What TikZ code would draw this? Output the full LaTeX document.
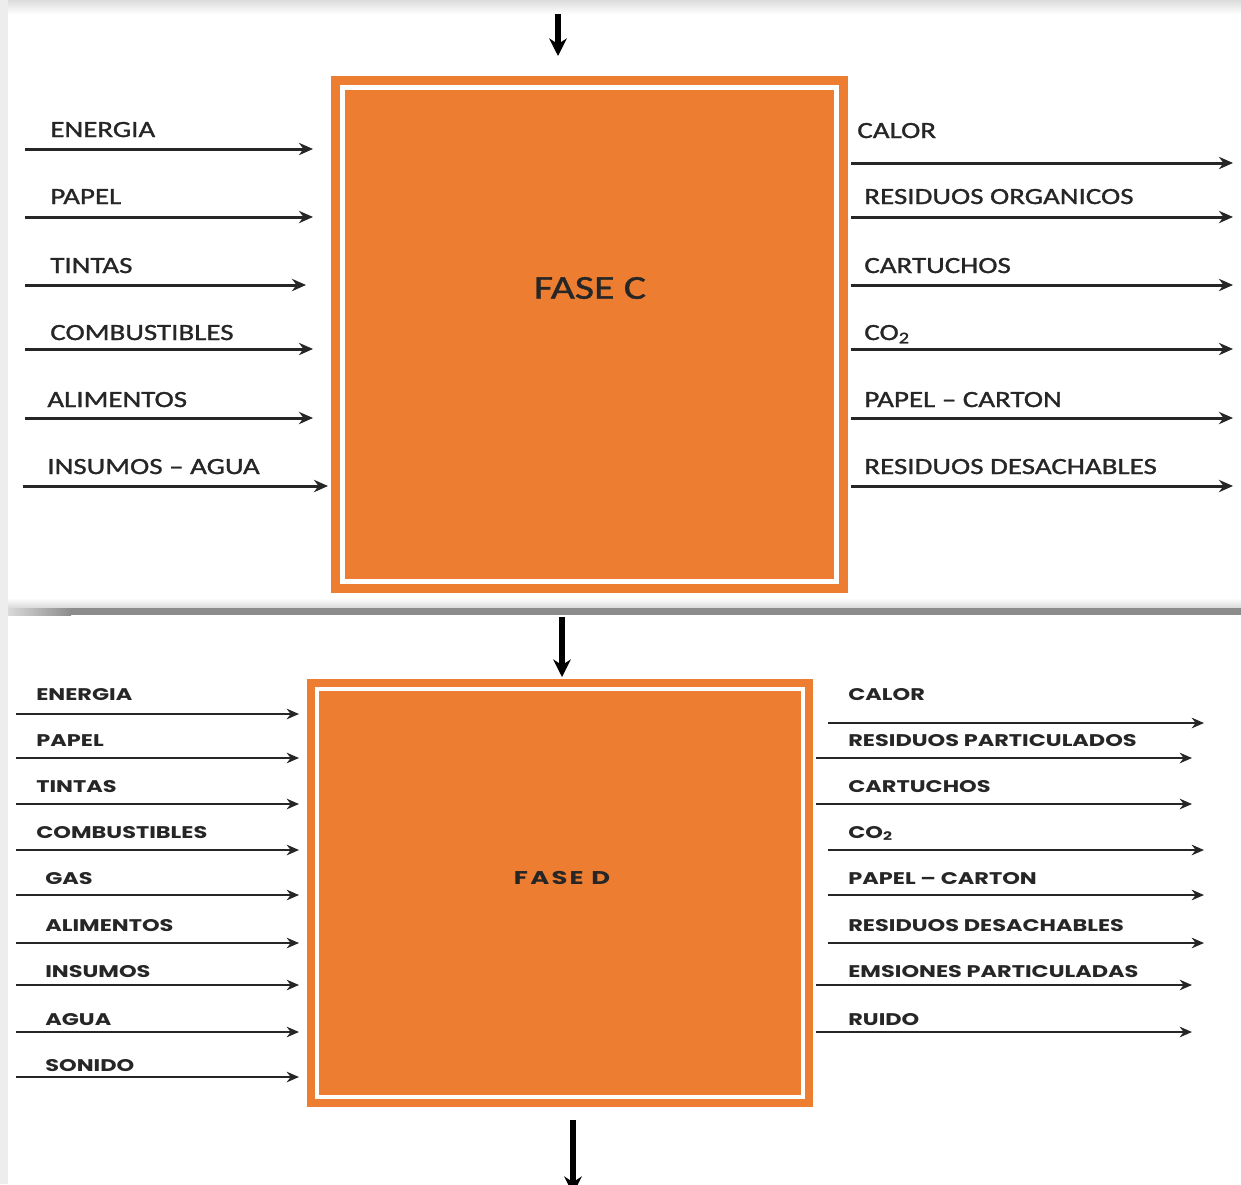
\documentclass[tikz,border=0pt]{standalone}
\usepackage{fontspec}
\setmainfont{Carlito}
\newfontfamily\labfont{Carlito}[FakeStretch=1.25, FakeBold=1.2]
\newfontfamily\widefont{Poppins}[FakeStretch=1.33]
\newfontfamily\widetitfont{Poppins}[FakeStretch=1.4, LetterSpace=12]
\usetikzlibrary{arrows.meta}
\definecolor{faseorange}{HTML}{ED7D31}
\definecolor{inkgray}{HTML}{262626}

\begin{document}
\begin{tikzpicture}[x=0.02cm, y=-0.02cm,
	flowC/.style={->, >={Stealth[length=8pt,width=7pt]}, line width=1.7pt, color=inkgray},
	flowD/.style={->, >={Stealth[length=7pt,width=6pt]}, line width=1.2pt, color=inkgray},
	feed/.style={->, >={Stealth[length=10pt,width=10pt]}, line width=3.2pt, color=black},
	labC/.style={anchor=base west, inner sep=0pt, text=inkgray, font=\labfont\fontsize{13.2}{15}\selectfont},
	labD/.style={anchor=base west, inner sep=0pt, text=inkgray, font=\widefont\bfseries\fontsize{9.6}{11}\selectfont},
	fasebox/.style={fill=faseorange, draw=none, inner sep=0pt}]
	\useasboundingbox (0,0) rectangle (1241,1184);
	\fill [white] (0,0) rectangle (1241,1184);
	% frame of the two panels
	\shade [top color=black!14, bottom color=white] (0,0) rectangle (1241,14);
	\fill [black!7] (0,0) rectangle (8,1184);
	\shade [top color=white, bottom color=black!15] (8,598) rectangle (1241,608);
	\fill [black!45] (70,608) rectangle (1241,615);
	\shade [left color=black!15, right color=black!45] (8,608) rectangle (71,615);

	% FASE C
	\node [fasebox, minimum width=10.34cm, minimum height=10.34cm] (faseC) at (589.5,334.5) {};
	\draw [white, line width=2.8pt] ([shift={(12,12)}]faseC.north west) rectangle ([shift={(-12,-12)}]faseC.south east);
	\node [text=black!85, font=\labfont\fontsize{19}{23}\selectfont] (titC) at (590,288) {FASE C};
	\coordinate (topin) at (558,14);
	\coordinate (topend) at (558,56);
	\draw [feed] (topin) -- (topend);

	% entradas C
	\coordinate (cin1) at (25,149); \coordinate (cin1e) at (313,149);
	\coordinate (cin2) at (25,217); \coordinate (cin2e) at (313,217);
	\coordinate (cin3) at (25,285); \coordinate (cin3e) at (306,285);
	\coordinate (cin4) at (25,349); \coordinate (cin4e) at (313,349);
	\coordinate (cin5) at (25,418); \coordinate (cin5e) at (313,418);
	\coordinate (cin6) at (23,486); \coordinate (cin6e) at (328,486);
	\draw [flowC] (cin1) -- (cin1e);
	\draw [flowC] (cin2) -- (cin2e);
	\draw [flowC] (cin3) -- (cin3e);
	\draw [flowC] (cin4) -- (cin4e);
	\draw [flowC] (cin5) -- (cin5e);
	\draw [flowC] (cin6) -- (cin6e);
	\node [labC] (lcin1) at (50,137) {ENERGIA};
	\node [labC] (lcin2) at (50,204) {PAPEL};
	\node [labC] (lcin3) at (50,273) {TINTAS};
	\node [labC] (lcin4) at (50,340) {COMBUSTIBLES};
	\node [labC] (lcin5) at (47,407) {ALIMENTOS};
	\node [labC] (lcin6) at (47,474) {INSUMOS – AGUA};

	% salidas C
	\coordinate (cout1) at (851,163); \coordinate (cout1e) at (1233,163);
	\coordinate (cout2) at (851,217); \coordinate (cout2e) at (1233,217);
	\coordinate (cout3) at (851,285); \coordinate (cout3e) at (1233,285);
	\coordinate (cout4) at (851,349); \coordinate (cout4e) at (1233,349);
	\coordinate (cout5) at (851,418); \coordinate (cout5e) at (1233,418);
	\coordinate (cout6) at (851,486); \coordinate (cout6e) at (1233,486);
	\draw [flowC] (cout1) -- (cout1e);
	\draw [flowC] (cout2) -- (cout2e);
	\draw [flowC] (cout3) -- (cout3e);
	\draw [flowC] (cout4) -- (cout4e);
	\draw [flowC] (cout5) -- (cout5e);
	\draw [flowC] (cout6) -- (cout6e);
	\node [labC] (lcout1) at (857,138) {CALOR};
	\node [labC] (lcout2) at (864,204) {RESIDUOS ORGANICOS};
	\node [labC] (lcout3) at (864,273) {CARTUCHOS};
	\node [labC] (lcout4) at (864,340) {CO\textsubscript{2}};
	\node [labC] (lcout5) at (864,407) {PAPEL – CARTON};
	\node [labC] (lcout6) at (864,474) {RESIDUOS DESACHABLES};

	% FASE D
	\node [fasebox, minimum width=10.12cm, minimum height=8.56cm] (faseD) at (560,893) {};
	\draw [white, line width=2.4pt] ([shift={(10,10)}]faseD.north west) rectangle ([shift={(-10,-10)}]faseD.south east);
	\node [text=black!85, font=\widetitfont\bfseries\fontsize{10.5}{12}\selectfont] (titD) at (562,878) {FASE D};
	\coordinate (midin) at (562,617);
	\coordinate (midend) at (562,677);
	\coordinate (botin) at (573,1120);
	\coordinate (botend) at (573,1194);
	\draw [feed] (midin) -- (midend);
	\draw [feed] (botin) -- (botend);

	% entradas D
	\coordinate (din1) at (16,714);  \coordinate (din1e) at (299,714);
	\coordinate (din2) at (16,758);  \coordinate (din2e) at (299,758);
	\coordinate (din3) at (16,804);  \coordinate (din3e) at (299,804);
	\coordinate (din4) at (16,850);  \coordinate (din4e) at (299,850);
	\coordinate (din5) at (16,895);  \coordinate (din5e) at (299,895);
	\coordinate (din6) at (16,943);  \coordinate (din6e) at (299,943);
	\coordinate (din7) at (16,985);  \coordinate (din7e) at (299,985);
	\coordinate (din8) at (16,1032); \coordinate (din8e) at (299,1032);
	\coordinate (din9) at (16,1077); \coordinate (din9e) at (299,1077);
	\draw [flowD] (din1) -- (din1e);
	\draw [flowD] (din2) -- (din2e);
	\draw [flowD] (din3) -- (din3e);
	\draw [flowD] (din4) -- (din4e);
	\draw [flowD] (din5) -- (din5e);
	\draw [flowD] (din6) -- (din6e);
	\draw [flowD] (din7) -- (din7e);
	\draw [flowD] (din8) -- (din8e);
	\draw [flowD] (din9) -- (din9e);
	\node [labD] (ldin1) at (36,700)  {ENERGIA};
	\node [labD] (ldin2) at (36,746)  {PAPEL};
	\node [labD] (ldin3) at (36,792)  {TINTAS};
	\node [labD] (ldin4) at (36,838)  {COMBUSTIBLES};
	\node [labD] (ldin5) at (45,884)  {GAS};
	\node [labD] (ldin6) at (45,931)  {ALIMENTOS};
	\node [labD] (ldin7) at (45,977)  {INSUMOS};
	\node [labD] (ldin8) at (45,1025) {AGUA};
	\node [labD] (ldin9) at (45,1071) {SONIDO};

	% salidas D
	\coordinate (dout1) at (828,723);  \coordinate (dout1e) at (1204,723);
	\coordinate (dout2) at (816,758);  \coordinate (dout2e) at (1192,758);
	\coordinate (dout3) at (816,804);  \coordinate (dout3e) at (1192,804);
	\coordinate (dout4) at (828,850);  \coordinate (dout4e) at (1204,850);
	\coordinate (dout5) at (828,895);  \coordinate (dout5e) at (1204,895);
	\coordinate (dout6) at (828,943);  \coordinate (dout6e) at (1204,943);
	\coordinate (dout7) at (816,985);  \coordinate (dout7e) at (1192,985);
	\coordinate (dout8) at (816,1032); \coordinate (dout8e) at (1192,1032);
	\draw [flowD] (dout1) -- (dout1e);
	\draw [flowD] (dout2) -- (dout2e);
	\draw [flowD] (dout3) -- (dout3e);
	\draw [flowD] (dout4) -- (dout4e);
	\draw [flowD] (dout5) -- (dout5e);
	\draw [flowD] (dout6) -- (dout6e);
	\draw [flowD] (dout7) -- (dout7e);
	\draw [flowD] (dout8) -- (dout8e);
	\node [labD] (ldout1) at (848,700)  {CALOR};
	\node [labD] (ldout2) at (848,746)  {RESIDUOS PARTICULADOS};
	\node [labD] (ldout3) at (848,792)  {CARTUCHOS};
	\node [labD] (ldout4) at (848,838)  {CO\textsubscript{2}};
	\node [labD] (ldout5) at (848,884)  {PAPEL – CARTON};
	\node [labD] (ldout6) at (848,931)  {RESIDUOS DESACHABLES};
	\node [labD] (ldout7) at (848,977)  {EMSIONES PARTICULADAS};
	\node [labD] (ldout8) at (848,1025) {RUIDO};
\end{tikzpicture}
\end{document}
